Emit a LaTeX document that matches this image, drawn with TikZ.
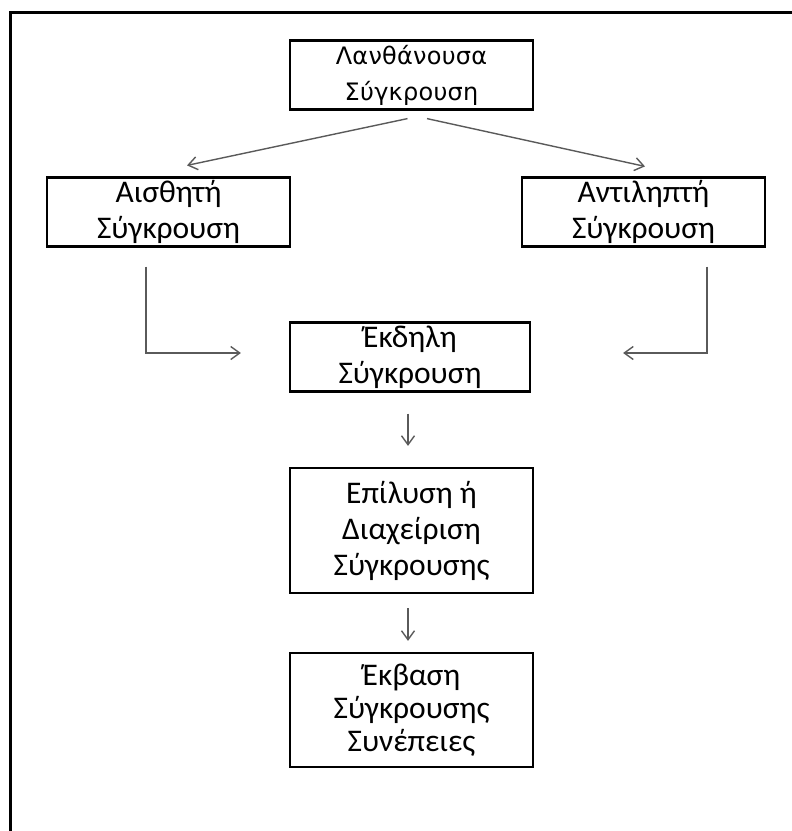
\documentclass[tikz,border=0pt]{standalone}
\usepackage{fontspec}
\setmainfont{Carlito}
\newfontfamily\topfont[LetterSpace=1]{DejaVu Sans}
\usetikzlibrary{arrows.meta}
\definecolor{arrowgray}{HTML}{5A5A5A}

\begin{document}
\begin{tikzpicture}[x=1pt, y=-1pt,
    stage/.style={draw=black, line width=2.2pt, align=center,
        minimum width=243pt, minimum height=69pt, inner sep=0pt,
        font=\fontsize{31.5}{36}\selectfont},
    flow/.style={draw=arrowgray, line width=1.4pt,
        -{Straight Barb[length=9pt, width=13pt, line width=1.4pt]}}]

\useasboundingbox (0,0) rectangle (792,831);

% --- OUTER FRAME ---
\draw[line width=3pt] (800,12) -- (10,12) -- (10,840);

% --- STAGES ---
\node[stage, font=\topfont\fontsize{24}{36}\selectfont] (lanth) at (411.5,75)
    {Λανθάνουσα\\Σύγκρουση};
\node[stage] (aisth) at (168.5,212) {Αισθητή\\Σύγκρουση};
\node[stage] (antil) at (643.5,212) {Αντιληπτή\\Σύγκρουση};
\node[stage, minimum width=240pt] (ekdil) at (410,357) {Έκδηλη\\Σύγκρουση};
\node[stage, minimum height=125pt] (epil) at (411.5,530.5)
    {Επίλυση ή\\Διαχείριση\\Σύγκρουσης};
\node[stage, minimum height=114pt, font=\fontsize{31.5}{33}\selectfont] (ekv) at (411.5,710)
    {Έκβαση\\Σύγκρουσης\\Συνέπειες};

% --- CONNECTOR ENDS ---
\coordinate (lanthL) at ([xshift=-4pt, yshift=-8pt]lanth.south);
\coordinate (lanthR) at ([xshift=15.5pt, yshift=-8pt]lanth.south);
\coordinate (aisthIn) at ([xshift=18.5pt, yshift=11pt]aisth.north);
\coordinate (antilIn) at ([xshift=1.5pt, yshift=10pt]antil.north);
\coordinate (aisthOut) at ([xshift=-22.5pt, yshift=-19pt]aisth.south);
\coordinate (antilOut) at ([xshift=63.5pt, yshift=-19pt]antil.south);
\coordinate (ekdilL) at ([xshift=-48pt, yshift=4pt]ekdil.west);
\coordinate (ekdilR) at ([xshift=92pt, yshift=4pt]ekdil.east);
\coordinate (ekdilOut) at ([xshift=-2pt, yshift=-21pt]ekdil.south);
\coordinate (epilIn) at ([xshift=-3.5pt, yshift=21pt]epil.north);
\coordinate (epilOut) at ([xshift=-3.5pt, yshift=-14pt]epil.south);
\coordinate (ekvIn) at ([xshift=-3.5pt, yshift=11pt]ekv.north);

% --- FLOW ---
\draw[flow] (lanthL) -- (aisthIn);
\draw[flow] (lanthR) -- (antilIn);
\draw[flow] (aisthOut) |- (ekdilL);
\draw[flow] (antilOut) |- (ekdilR);
\draw[flow] (ekdilOut) -- (epilIn);
\draw[flow] (epilOut) -- (ekvIn);

\end{tikzpicture}
\end{document}
